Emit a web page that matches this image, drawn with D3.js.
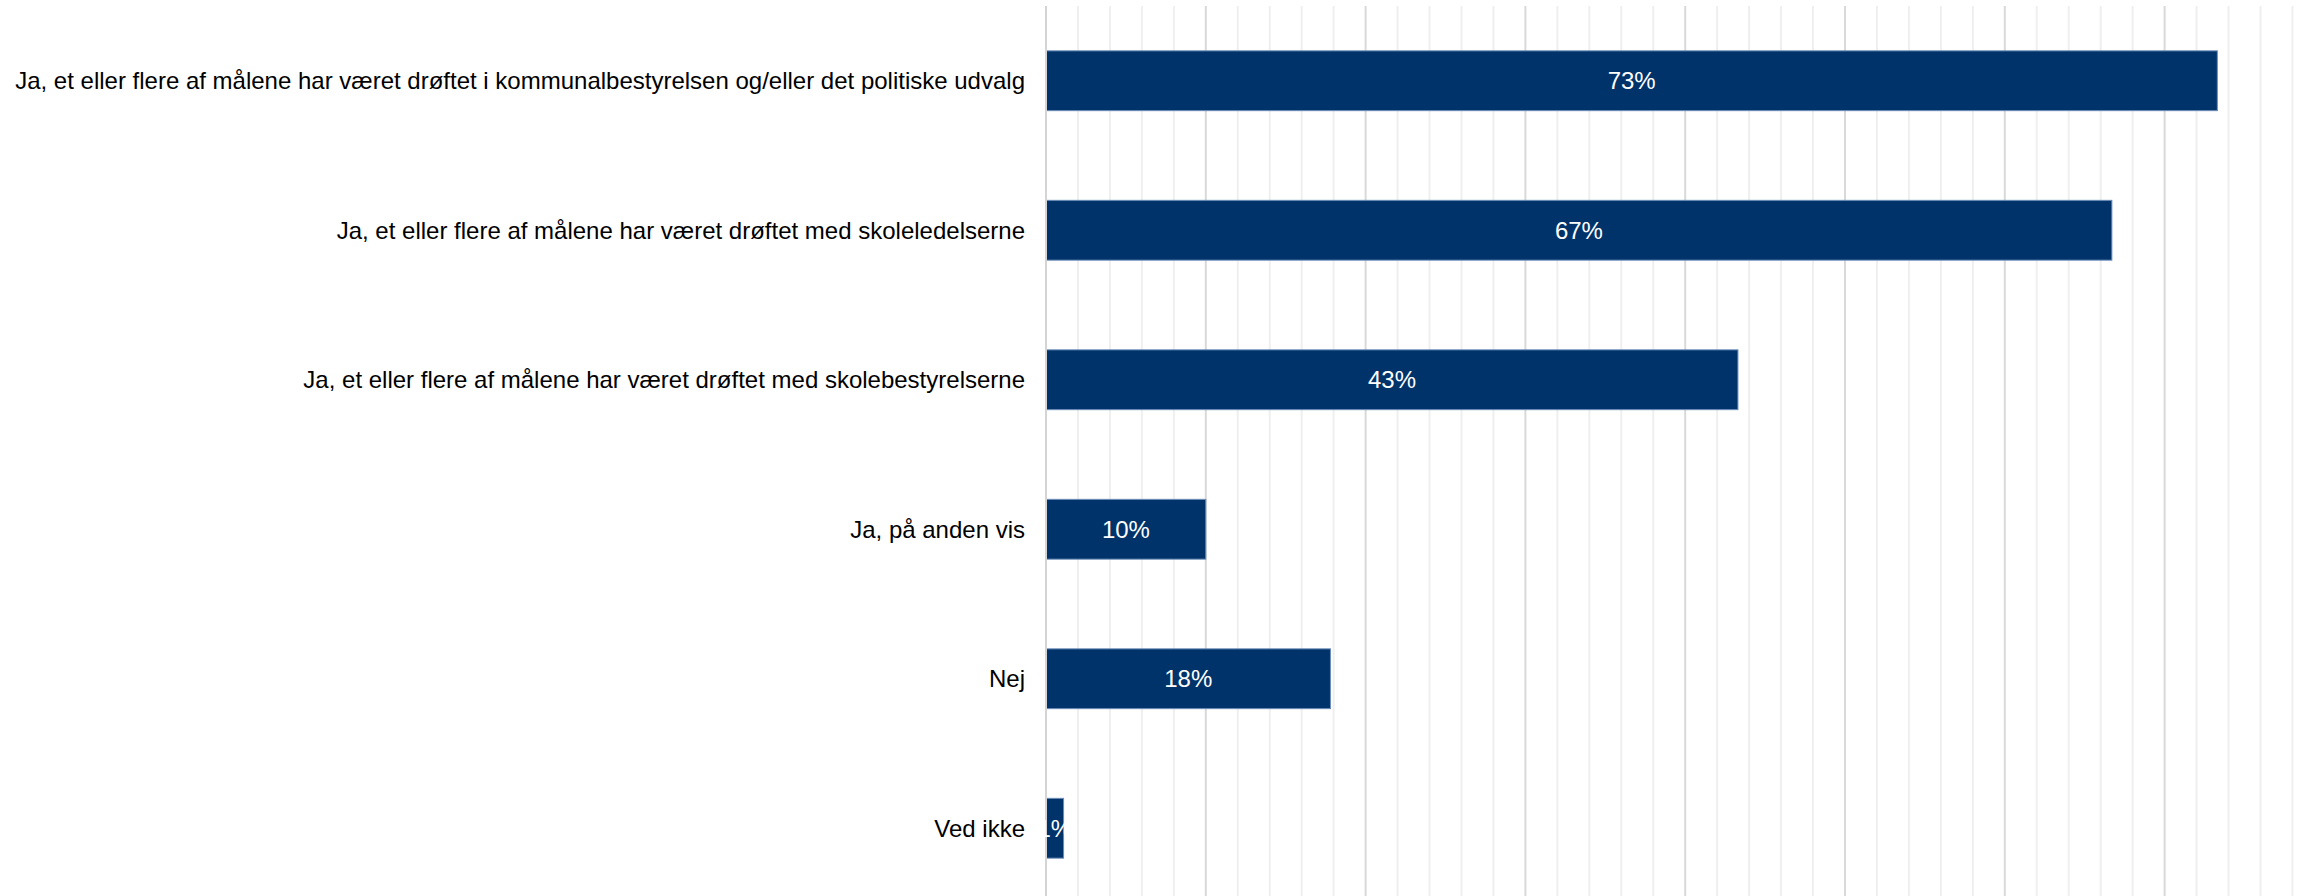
<!DOCTYPE html>
<html><head><meta charset="utf-8">
<script src="https://cdn.jsdelivr.net/npm/d3@7"></script>
<style>body{margin:0;background:#fff;overflow:hidden}svg{display:block}</style>
</head><body>
<svg id="c" width="2320" height="896"></svg>
<script>
const categories = [
  "Ja, et eller flere af målene har været drøftet i kommunalbestyrelsen og/eller det politiske udvalg",
  "Ja, et eller flere af målene har været drøftet med skoleledelserne",
  "Ja, et eller flere af målene har været drøftet med skolebestyrelserne",
  "Ja, på anden vis",
  "Nej",
  "Ved ikke"
];
const values = [0.733, 0.667, 0.433, 0.100, 0.178, 0.011];
const majorTicks = [0, 0.1, 0.2, 0.3, 0.4, 0.5, 0.6, 0.7, 0.8];
const minorTicks = [0.02,0.04,0.06,0.08,0.12,0.14,0.16,0.18,0.22,0.24,0.26,0.28,0.32,0.34,0.36,0.38,
  0.42,0.44,0.46,0.48,0.52,0.54,0.56,0.58,0.62,0.64,0.66,0.68,0.72,0.74,0.76,0.78];

(function(){
const svg = d3.select("#c");
const mLeft = 1046, mTop = 6, mBottom = 903;
const x = d3.scaleLinear().domain([0, 0.8]).range([mLeft, mLeft + 1598 * 0.8]);
const y = d3.scaleBand().domain(categories).range([mTop, mBottom]).padding(0);
const barH = y.bandwidth() * 0.4;

svg.append("g").selectAll("line").data(minorTicks).join("line")
  .attr("x1", d => x(d)).attr("x2", d => x(d)).attr("y1", mTop).attr("y2", 896)
  .attr("stroke", "#efefef").attr("stroke-width", 2);
svg.append("g").selectAll("line").data(majorTicks.slice(1)).join("line")
  .attr("x1", d => x(d)).attr("x2", d => x(d)).attr("y1", mTop).attr("y2", 896)
  .attr("stroke", "#d9d9d9").attr("stroke-width", 2);

svg.append("g").selectAll("rect").data(values).join("rect")
  .attr("x", x(0))
  .attr("y", (d, i) => y(categories[i]) + (y.bandwidth() - barH) / 2)
  .attr("width", d => x(d) - x(0))
  .attr("height", barH)
  .attr("fill", "#00336a")
  .attr("stroke", "#6a8cb8").attr("stroke-width", 1);

svg.append("line").attr("x1", x(0)).attr("x2", x(0)).attr("y1", mTop).attr("y2", 896)
  .attr("stroke", "#d4d4d4").attr("stroke-width", 2);

svg.append("g").selectAll("text").data(values).join("text")
  .attr("x", d => (x(0) + x(d)) / 2)
  .attr("y", (d, i) => y(categories[i]) + y.bandwidth() / 2)
  .attr("dy", "0.35em")
  .attr("text-anchor", "middle")
  .attr("font-family", "Liberation Sans, Arial, sans-serif")
  .attr("font-size", 24)
  .attr("fill", "#ffffff")
  .text(d => d3.format(".0%")(d));

svg.append("g").selectAll("text").data(categories).join("text")
  .attr("x", mLeft - 21)
  .attr("y", d => y(d) + y.bandwidth() / 2)
  .attr("dy", "0.35em")
  .attr("text-anchor", "end")
  .attr("font-family", "Liberation Sans, Arial, sans-serif")
  .attr("font-size", 24)
  .attr("fill", "#000")
  .text(d => d);
})();
</script>
</body></html>
